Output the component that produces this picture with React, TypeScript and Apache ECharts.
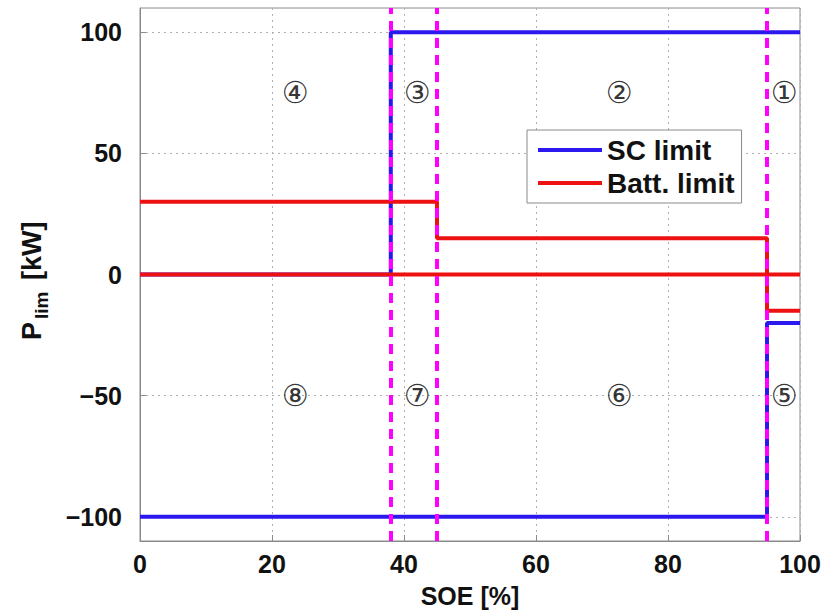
import React, { useEffect, useRef } from "react";
import * as echarts from "echarts";

const scUpperX = [0, 38, 100];
const scUpperY = [0, 100, 100];
const scLowerX = [0, 95, 100];
const scLowerY = [-100, -20, -20];
const battUpperX = [0, 45, 95, 100];
const battUpperY = [30, 15, 0, 0];
const battLowerX = [0, 95, 100];
const battLowerY = [0, -15, -15];
const boundaries = [38, 45, 95];
const regionLabels = ["①", "②", "③", "④", "⑤", "⑥", "⑦", "⑧"];
const regionX = [97.6, 72.6, 42.0, 23.5, 97.6, 72.6, 42.0, 23.5];
const regionY = [75, 75, 75, 75, -50, -50, -50, -50];
const yTicks = [-100, -50, 0, 50, 100];

const FONT = "'Liberation Sans', Arial, Helvetica, sans-serif";
const BLUE = "#2a18ee";
const RED = "#ee1111";
const zip = (xs: number[], ys: number[]) => xs.map((x, i) => [x, ys[i]]);

export default function App() {
  const ref = useRef<HTMLDivElement>(null);
  useEffect(() => {
    const chart = echarts.init(ref.current!, null, { renderer: "svg" });
    const lineBase = {
      type: "line",
      step: "end",
      showSymbol: false,
      symbol: "none",
      lineStyle: { width: 4, cap: "butt" },
    };
    chart.setOption({
      animation: false,
      grid: {
        left: 140,
        right: 28,
        top: 8,
        bottom: 73,
        show: true,
        borderColor: "#8a8a8a",
        borderWidth: 1,
        backgroundColor: "#fff",
      },
      legend: {
        data: ["SC limit", "Batt. limit"],
        orient: "vertical",
        left: 527,
        top: 130,
        padding: [6, 7, 6, 11],
        itemGap: 5,
        icon: "rect",
        itemWidth: 64,
        itemHeight: 4,
        backgroundColor: "#fff",
        borderColor: "#8a8a8a",
        borderWidth: 1,
        textStyle: { fontFamily: FONT, fontWeight: "bold", fontSize: 28, color: "#111" },
        itemStyle: { borderWidth: 0 },
      },
      xAxis: {
        type: "value",
        min: 0,
        max: 100,
        interval: 20,
        name: "SOE [%]",
        nameLocation: "middle",
        nameGap: 42,
        nameTextStyle: { fontFamily: FONT, fontWeight: "bold", fontSize: 25, color: "#111" },
        axisLine: { show: true, onZero: false, lineStyle: { color: "#8a8a8a" } },
        axisTick: { show: true, inside: true, length: 6, lineStyle: { color: "#8a8a8a" } },
        axisLabel: { fontFamily: FONT, fontWeight: "bold", fontSize: 25, color: "#111", margin: 10 },
        splitLine: { show: true, lineStyle: { color: "#b0b0b0", type: [2, 4], width: 1 } },
      },
      yAxis: {
        type: "value",
        min: -110,
        max: 110,
        axisLine: { show: true, onZero: false, lineStyle: { color: "#8a8a8a" } },
        axisTick: { show: true, inside: true, length: 6, customValues: yTicks, lineStyle: { color: "#8a8a8a" } },
        axisLabel: {
          fontFamily: FONT,
          fontWeight: "bold",
          fontSize: 25,
          color: "#111",
          margin: 18,
          customValues: yTicks,
          formatter: (v: number) => (v < 0 ? "\u2212" + Math.abs(v) : String(v)),
        },
        splitLine: { show: true, lineStyle: { color: "#b0b0b0", type: [2, 4], width: 1 } },
      },
      graphic: [
        {
          type: "group",
          x: 45,
          y: 340,
          rotation: Math.PI / 2,
          children: [
            { type: "text", x: 0, y: 0, style: { text: "P", fontFamily: FONT, fontWeight: "bold", fontSize: 27, fill: "#111", align: "left", verticalAlign: "bottom" } },
            { type: "text", x: 21, y: 6, style: { text: "lim", fontFamily: FONT, fontWeight: "bold", fontSize: 19, fill: "#111", align: "left", verticalAlign: "bottom" } },
            { type: "text", x: 60, y: 0, style: { text: "[kW]", fontFamily: FONT, fontWeight: "bold", fontSize: 27, fill: "#111", align: "left", verticalAlign: "bottom" } },
          ],
        },
      ],
      series: [
        { ...lineBase, name: "SC limit", color: BLUE, data: zip(scUpperX, scUpperY), z: 2 },
        { ...lineBase, name: "SC limit", color: BLUE, data: zip(scLowerX, scLowerY), z: 2 },
        { ...lineBase, name: "Batt. limit", color: RED, data: zip(battUpperX, battUpperY), z: 3 },
        { ...lineBase, name: "Batt. limit", color: RED, data: zip(battLowerX, battLowerY), z: 3 },
        {
          type: "scatter",
          name: "regions",
          symbolSize: 1,
          itemStyle: { color: "transparent" },
          z: 4,
          data: regionX.map((x, i) => ({ value: [x, regionY[i]], name: regionLabels[i] })),
          label: {
            show: true,
            position: "inside",
            formatter: (p: any) => p.name,
            fontFamily: "'DejaVu Sans', 'Noto Sans CJK JP'",
            fontSize: 30,
            color: "#000",
          },
        },
        {
          type: "line",
          name: "bounds",
          data: [],
          z: 5,
          markLine: {
            silent: true,
            symbol: "none",
            label: { show: false },
            lineStyle: { color: "#ff00ff", width: 4, type: [10, 7] },
            data: boundaries.map((b) => ({ xAxis: b })),
          },
        },
      ],
    });
    return () => chart.dispose();
  }, []);
  return <div ref={ref} style={{ width: 828, height: 614, position: "absolute", left: 0, top: 0 }} />;
}
